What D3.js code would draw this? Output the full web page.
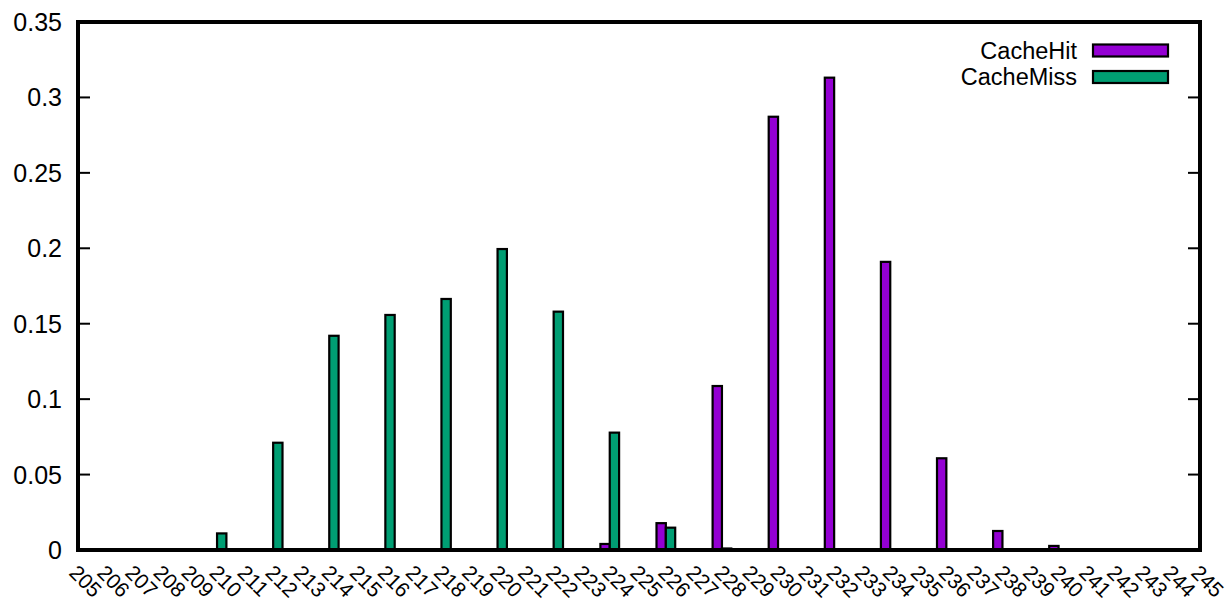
<!DOCTYPE html>
<html><head><meta charset="utf-8">
<script src="https://cdn.jsdelivr.net/npm/d3@7"></script>
<style>
html,body{margin:0;padding:0;background:#fff;}
svg{display:block;font-family:"Liberation Sans",Arial,Helvetica,sans-serif;}
</style></head>
<body>
<svg id="chart" width="1228" height="603"></svg>
<script>
// ---- data ----
const categories = ["205","206","207","208","209","210","211","212","213","214","215","216","217","218","219","220","221","222","223","224","225","226","227","228","229","230","231","232","233","234","235","236","237","238","239","240","241","242","243","244","245"];
const cacheHit = [0,0,0,0,0,0,0,0,0,0,0,0,0,0,0,0,0,0,0,0.004,0,0.0178,0,0.1087,0,0.2872,0,0.3131,0,0.191,0,0.0608,0,0.0126,0,0.0027,0,0,0,0,0];
const cacheMiss = [0,0,0,0,0,0.011,0,0.0711,0,0.142,0,0.1558,0,0.1664,0,0.1995,0,0.158,0,0.0778,0,0.0148,0,0.001,0,0,0,0,0,0,0,0,0,0,0,0,0,0,0,0,0];
const seriesNames = ["CacheHit","CacheMiss"];
const seriesColors = ["#9400d3","#009e73"];
const yTicks = [0,0.05,0.1,0.15,0.2,0.25,0.3,0.35];

const svg = d3.select("#chart");
const L = 78, R = 1200, T = 22, B = 550;
const x = d3.scaleLinear().domain([0, categories.length-1]).range([77, 1199]);
const y = d3.scaleLinear().domain([0, 0.35]).range([B, T]);
const unit = x(1)-x(0);
const bw = unit/3;
const fs = 25;
const fsLeg = 23.5;
const fsx = 21;

// y ticks (inward, mirrored)
const yg = svg.append("g");
yTicks.forEach(t=>{
  if(t>0 && t<0.35){
    yg.append("line").attr("x1",L).attr("x2",L+12).attr("y1",y(t)).attr("y2",y(t)).attr("stroke","#000").attr("stroke-width",2);
    yg.append("line").attr("x1",R-12).attr("x2",R).attr("y1",y(t)).attr("y2",y(t)).attr("stroke","#000").attr("stroke-width",2);
  }
  yg.append("text").attr("x",L-16).attr("y",y(t)).attr("dy","0.36em").attr("text-anchor","end")
    .attr("font-size",fs).text(d3.format("")(t));
});

// bars
const series = [cacheHit, cacheMiss];
series.forEach((vals,si)=>{
  const off = si===0 ? -bw/2 - 0.2 : bw/2 - 0.2;
  svg.append("g").selectAll("rect").data(vals).join("rect")
    .attr("x",(d,i)=>x(i)+off-bw/2)
    .attr("width",bw)
    .attr("y",d=>y(d))
    .attr("height",d=>B-y(d))
    .attr("fill",seriesColors[si])
    .attr("stroke","#000").attr("stroke-width",2.2);
});

// x labels rotated
const xg = svg.append("g");
categories.forEach((c,i)=>{
  const px = x(i)-9, py = 574;
  xg.append("text").attr("transform",`translate(${px},${py}) rotate(45)`)
    .attr("font-size",fsx).attr("text-anchor","start").text(c);
});

// border
svg.append("rect").attr("x",L).attr("y",T).attr("width",R-L).attr("height",B-T)
  .attr("fill","none").attr("stroke","#000").attr("stroke-width",4);

// legend
const lg = svg.append("g");
seriesNames.forEach((n,i)=>{
  const cy = 50.5 + i*26.5;
  lg.append("text").attr("x",1077).attr("y",cy).attr("dy","0.36em").attr("text-anchor","end")
    .attr("font-size",fsLeg).text(n);
  lg.append("rect").attr("x",1093).attr("y",cy-6).attr("width",75).attr("height",12)
    .attr("fill",seriesColors[i]).attr("stroke","#000").attr("stroke-width",2.2);
});
</script>
</body></html>
